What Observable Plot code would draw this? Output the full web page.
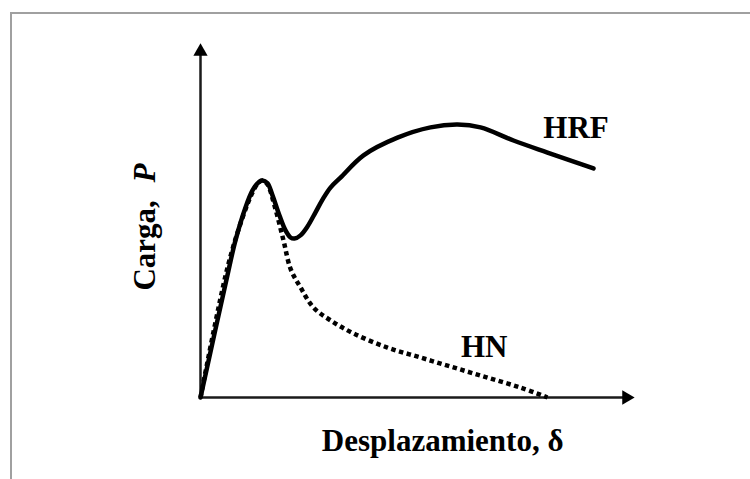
<!DOCTYPE html>
<html>
<head>
<meta charset="utf-8">
<script src="https://cdn.jsdelivr.net/npm/d3@7"></script>
<script src="https://cdn.jsdelivr.net/npm/@observablehq/plot@0.6"></script>
<style>
  html, body { margin: 0; padding: 0; background: #fff; }
  #wrap { position: relative; width: 750px; height: 479px; overflow: hidden; }
  #frame { position: absolute; left: 10px; top: 12px; width: 760px; height: 480px;
           border-top: 2px solid #a0a0a0; border-left: 2px solid #a0a0a0; box-sizing: border-box; }
  #chart { position: absolute; left: 0; top: 0; }
</style>
</head>
<body>
<div id="wrap"><div id="frame"></div><div id="chart"></div></div>
<script>
// HRF (fibre reinforced concrete) load–displacement curve, arbitrary units
const hrfDelta = [0, 0.645, 0.806, 1.037, 1.198, 1.313, 1.429, 1.544, 1.659, 1.820, 1.959, 2.074, 2.166, 2.304, 2.465, 2.650, 2.811, 2.995, 3.226, 3.756, 4.539, 5.300, 5.922, 6.452, 7.212, 7.995, 9.055];
const hrfLoad  = [0, 3.59, 4.44, 5.37, 5.85, 6.05, 6.13, 6.05, 5.71, 5.14, 4.72, 4.52, 4.49, 4.58, 4.83, 5.23, 5.59, 5.93, 6.21, 6.84, 7.34, 7.63, 7.71, 7.63, 7.26, 6.92, 6.47];
// HN (plain concrete) curve
const hnDelta = [0, 0.622, 0.968, 1.198, 1.336, 1.429, 1.544, 1.705, 1.912, 2.074, 2.304, 2.604, 2.995, 3.525, 4.309, 5.069, 5.829, 6.613, 7.373, 7.995];
const hnLoad  = [0, 3.67, 5.08, 5.79, 6.07, 6.13, 6.02, 5.42, 4.44, 3.64, 3.11, 2.54, 2.18, 1.81, 1.41, 1.13, 0.85, 0.56, 0.28, 0];

const xLabel = "Desplazamiento, δ";
const yLabelMain = "Carga,";
const yLabelSym = "P";
const hrfLabel = "HRF";
const hnLabel = "HN";

const hrf = hrfDelta.map((d, i) => ({delta: d, load: hrfLoad[i]}));
const hn = hnDelta.map((d, i) => ({delta: d, load: hnLoad[i]}));

const font = "'Liberation Serif', 'Times New Roman', serif";
const ink = "#000";

const chart = Plot.plot({
  width: 750,
  height: 479,
  marginLeft: 200,
  marginRight: 116,
  marginTop: 43,
  marginBottom: 82,
  x: {domain: [0, 10], axis: null},
  y: {domain: [0, 10], axis: null},
  style: {background: "transparent", fontFamily: font},
  marks: [
    Plot.ruleX([0], {y1: 0, y2: 9.7, stroke: "#1a1a1a", strokeWidth: 2.5}),
    Plot.ruleY([0], {x1: 0, x2: 9.8, stroke: "#1a1a1a", strokeWidth: 2.5}),
    Plot.dot([0], {x: 0, y: 10, symbol: "triangle", r: 5.3, fill: ink, stroke: "none", dy: 8.1}),
    Plot.dot([0], {x: 10, y: 0, symbol: "triangle", r: 5.3, fill: ink, stroke: "none", rotate: 90, dx: -8.1}),
    Plot.line(hn, {x: "delta", y: "load", stroke: ink, strokeWidth: 4.5, strokeDasharray: "4.5 3.5", strokeLinecap: "butt", strokeLinejoin: "miter", curve: "catmull-rom"}),
    Plot.line(hrf, {x: "delta", y: "load", stroke: ink, strokeWidth: 4.5, curve: "catmull-rom", strokeLinecap: "round"}),
    Plot.text([hrfLabel], {x: 7.90, y: 7.32, text: d => d, textAnchor: "start", lineAnchor: "bottom", fontSize: 31, fontWeight: "bold", fill: ink}),
    Plot.text([hnLabel], {x: 6.0, y: 1.13, text: d => d, textAnchor: "start", lineAnchor: "bottom", fontSize: 31, fontWeight: "bold", fill: ink}),
    Plot.text([xLabel], {x: 5.58, frameAnchor: "bottom", dy: 53, text: d => d, textAnchor: "middle", lineAnchor: "bottom", fontSize: 31, fontWeight: "bold", fill: ink}),
    Plot.text([yLabelMain], {y: 3.02, frameAnchor: "left", dx: -46, rotate: -90, text: d => d, textAnchor: "start", lineAnchor: "bottom", fontSize: 31, fontWeight: "bold", fill: ink}),
    Plot.text([yLabelSym], {y: 6.07, frameAnchor: "left", dx: -46, rotate: -90, text: d => d, textAnchor: "start", lineAnchor: "bottom", fontSize: 31, fontWeight: "bold", fontStyle: "italic", fill: ink})
  ]
});
document.getElementById("chart").appendChild(chart);
</script>
</body>
</html>
